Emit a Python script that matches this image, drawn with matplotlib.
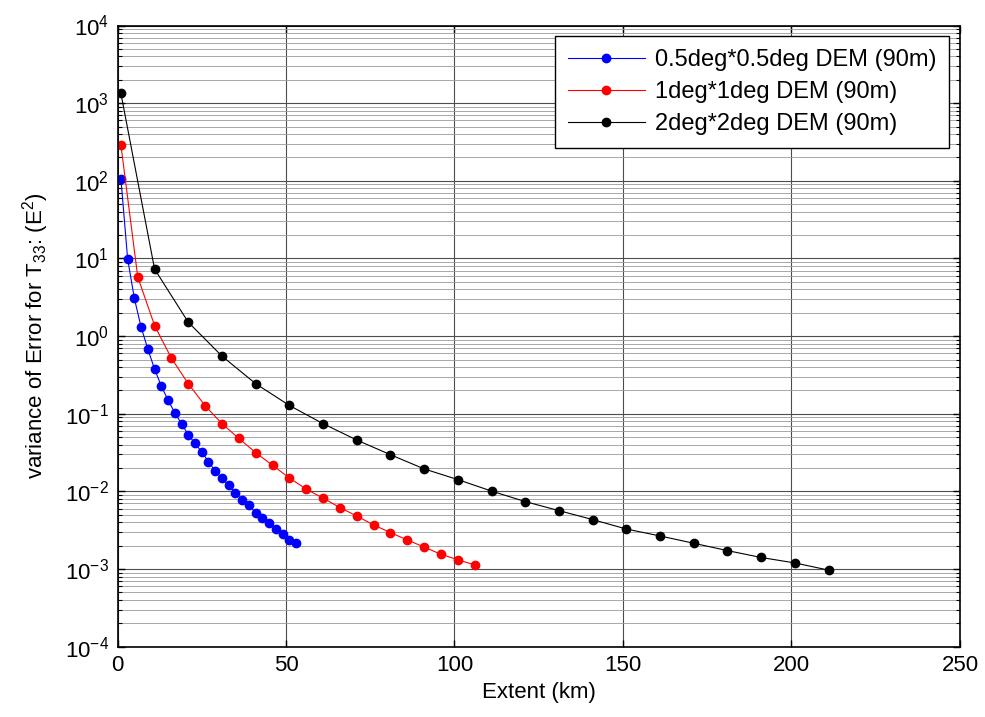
import numpy as np
import matplotlib
matplotlib.use('Agg')
import matplotlib.pyplot as plt
from matplotlib.ticker import LogLocator, NullFormatter, FixedLocator, MultipleLocator

# extent (km) and variance of error
x_05 = [1, 3, 5, 7, 9, 11, 13, 15, 17, 19, 21, 23, 25, 27, 29, 31, 33, 35, 37,
        39, 41, 43, 45, 47, 49, 51, 53]
v_05 = [107, 9.9, 3.06, 1.31, 0.68, 0.376, 0.227, 0.150, 0.103, 0.0745, 0.0537,
        0.0416, 0.0321, 0.0242, 0.0183, 0.0148, 0.0120, 0.0096, 0.0078, 0.0067,
        0.0053, 0.0046, 0.0039, 0.0033, 0.0028, 0.0024, 0.00215]

x_1 = [1, 6, 11, 16, 21, 26, 31, 36, 41, 46, 51, 56, 61, 66, 71, 76, 81, 86,
       91, 96, 101, 106]
v_1 = [292, 5.8, 1.37, 0.52, 0.244, 0.127, 0.0746, 0.0482, 0.0316, 0.0217,
       0.0149, 0.0107, 0.0082, 0.0062, 0.00482, 0.0037, 0.00295, 0.00237,
       0.00192, 0.00155, 0.00132, 0.00113]

x_2 = [1, 11, 21, 31, 41, 51, 61, 71, 81, 91, 101, 111, 121, 131, 141, 151,
       161, 171, 181, 191, 201, 211]
v_2 = [1340, 7.3, 1.51, 0.553, 0.244, 0.128, 0.0746, 0.0459, 0.0297, 0.0195,
       0.0142, 0.0101, 0.0074, 0.00566, 0.00434, 0.00328, 0.00267, 0.00215,
       0.00173, 0.00141, 0.0012, 0.00097]

labels = ['0.5deg*0.5deg DEM (90m)', '1deg*1deg DEM (90m)', '2deg*2deg DEM (90m)']
yticks = [1e-4, 1e-3, 1e-2, 1e-1, 1e0, 1e1, 1e2, 1e3, 1e4]

plt.rcParams['font.family'] = ['Liberation Sans', 'DejaVu Sans']
plt.rcParams['mathtext.fontset'] = 'custom'
plt.rcParams['mathtext.rm'] = 'Liberation Sans'
plt.rcParams['mathtext.it'] = 'Liberation Sans:italic'

fig = plt.figure(figsize=(9.85, 7.17), dpi=100)
ax = fig.add_axes([0.1193, 0.098, 0.8553, 0.8664])

ax.semilogy(x_05, v_05, '-o', color='#0000ff', lw=0.8, ms=6, label=labels[0])
ax.semilogy(x_1, v_1, '-o', color='#ff0000', lw=0.8, ms=6, label=labels[1])
ax.semilogy(x_2, v_2, '-o', color='k', lw=0.8, ms=6, label=labels[2])

ax.set_xlim(0, 250)
ax.set_ylim(1e-4, 1e4)
ax.xaxis.set_major_locator(MultipleLocator(50))
ax.yaxis.set_major_locator(FixedLocator(yticks))
ax.yaxis.set_minor_locator(LogLocator(base=10, subs=np.arange(2, 10), numticks=20))
ax.yaxis.set_minor_formatter(NullFormatter())

ax.grid(True, which='major', axis='both', color='0.3', lw=0.8)
ax.grid(True, which='minor', axis='y', color='0.6', lw=0.6)
ax.set_axisbelow(True)

ax.tick_params(which='both', direction='in', top=True, right=True, labelsize=16)
ax.tick_params(which='major', length=5, width=1, pad=6)
ax.tick_params(which='minor', length=3, width=0.8)
for s in ax.spines.values():
    s.set_linewidth(1.2)

ax.set_xlabel('Extent (km)', fontsize=16, labelpad=4)
ax.set_ylabel('variance of Error for T$_{33}$: (E$^2$)', fontsize=16, labelpad=10)

leg = ax.legend(loc='upper right', fontsize=17, handlelength=3.3, handletextpad=0.4,
                labelspacing=0.42, borderpad=0.55, borderaxespad=0.45,
                fancybox=False, framealpha=1, edgecolor='k')
leg.get_frame().set_linewidth(1.0)

fig.savefig('out.png', dpi=100)
